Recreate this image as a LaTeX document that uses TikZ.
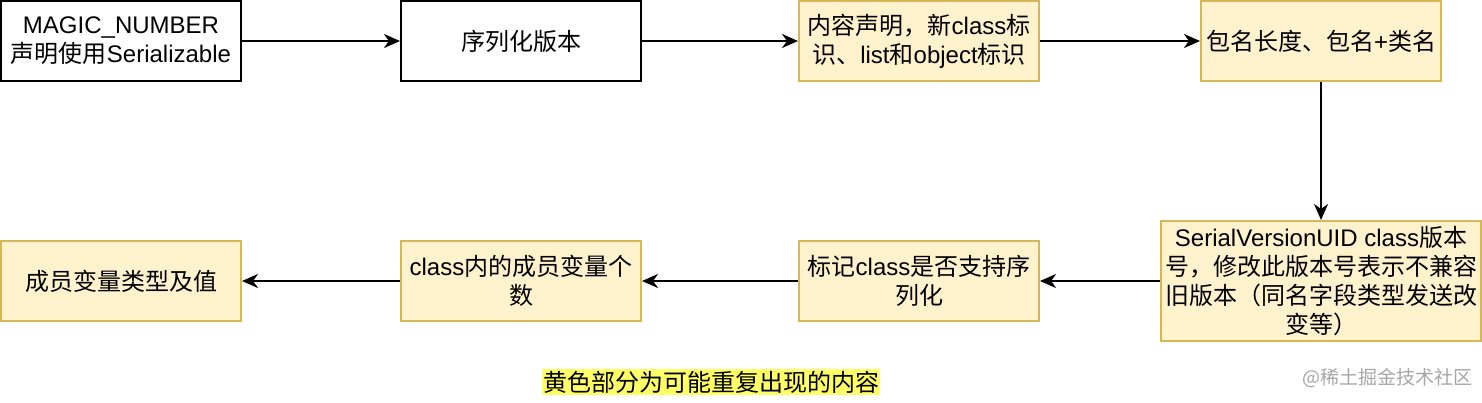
\documentclass[tikz,border=0pt]{standalone}
\usepackage{fontspec}
\setmainfont{Liberation Sans}
\newfontfamily\zhfont{Noto Sans CJK SC}
\newcommand{\zh}[1]{{\zhfont #1}}
\usetikzlibrary{arrows.meta}
\definecolor{boxfill}{HTML}{FFF2CC}
\definecolor{boxline}{HTML}{D6B656}
\definecolor{hl}{HTML}{FFFF66}
\tikzset{
  plainbox/.style={draw=black, line width=2pt, fill=white, minimum width=240pt, minimum height=80pt, inner sep=0pt, align=center, font=\fontsize{24}{28.8}\selectfont},
  yelbox/.style={plainbox, draw=boxline, fill=boxfill},
  conn/.style={line width=2pt, -{Stealth[length=16pt,width=14pt,inset=5pt]}}
}
\begin{document}
\begin{tikzpicture}[x=1pt,y=-1pt]
\useasboundingbox (0,0) rectangle (1482,402);
\node[plainbox] (b1) at (121,41) {MAGIC\_NUMBER\\\zh{声明使用}Serializable};
\node[plainbox] (b2) at (521,41) {\zh{序列化版本}};
\node[yelbox] (b3) at (919,41) {\zh{内容声明，新}class\zh{标}\\\zh{识、}list\zh{和}object\zh{标识}};
\node[yelbox] (b4) at (1321,41) {\zh{包名长度、包名}+\zh{类名}};
\node[yelbox, minimum width=320pt, minimum height=120pt] (b5) at (1321,281) {SerialVersionUID class\zh{版本}\\\zh{号，修改此版本号表示不兼容}\\\zh{旧版本（同名字段类型发送改}\\\zh{变等）}};
\node[yelbox] (b6) at (919,281) {\zh{标记}class\zh{是否支持序}\\\zh{列化}};
\node[yelbox] (b7) at (521,281) {class\zh{内的成员变量个}\\\zh{数}};
\node[yelbox] (b8) at (121,281) {\zh{成员变量类型及值}};
\draw[conn] (b1) -- (b2);
\draw[conn] (b2) -- (b3);
\draw[conn] (b3) -- (b4);
\draw[conn] (b4) -- (b5);
\draw[conn] (b5) -- (b6);
\draw[conn] (b6) -- (b7);
\draw[conn] (b7) -- (b8);
\node[fill=hl, inner xsep=1pt, inner ysep=2pt, font=\fontsize{24}{28.8}\selectfont\zhfont] (cap) at (711,382) {黄色部分为可能重复出现的内容};
\node[text=black!35, inner sep=0pt, font=\fontsize{19}{22}\selectfont\zhfont] (wm) at (1387,378) {@稀土掘金技术社区};
\end{tikzpicture}
\end{document}
